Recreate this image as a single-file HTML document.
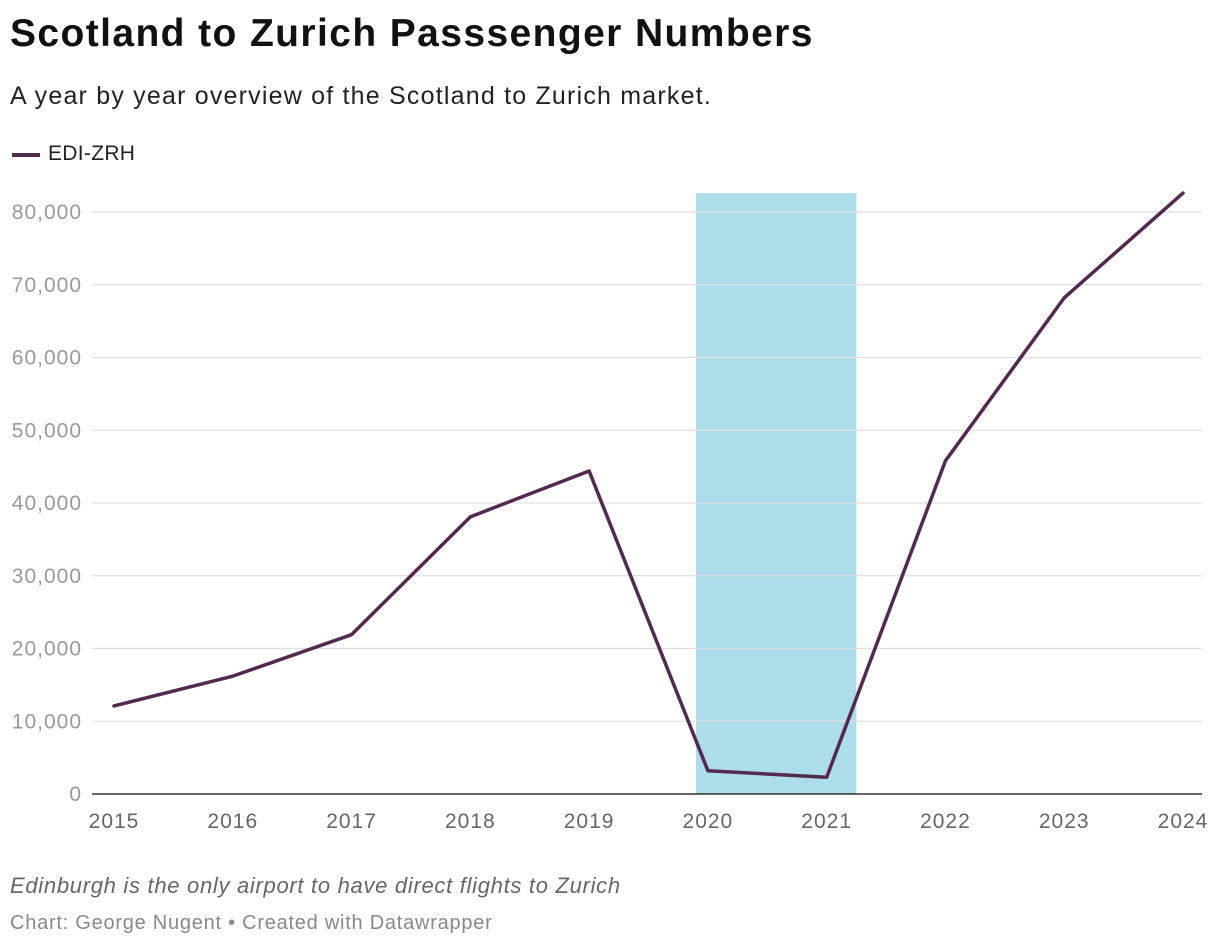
<!DOCTYPE html>
<html><head><meta charset="utf-8"><style>
body{margin:0;width:1220px;height:948px;background:#fff;font-family:"Liberation Sans",sans-serif;overflow:hidden;position:relative}
.t{position:absolute;white-space:nowrap}
</style></head><body>
<div class="t" style="left:10px;top:12px;font-size:39px;font-weight:bold;color:#111;letter-spacing:1.4px">Scotland to Zurich Passsenger Numbers</div>
<div class="t" style="left:10px;top:82px;font-size:25px;color:#222;letter-spacing:1.2px">A year by year overview of the Scotland to Zurich market.</div>
<div>
<div class="t" style="left:12px;top:153px;width:28px;height:4px;background:#522a4d"></div>
<div class="t" style="left:48px;top:142px;font-size:21px;color:#222;letter-spacing:0.3px">EDI-ZRH</div>
</div>
<svg id="chart" width="1220" height="948" style="position:absolute;left:0;top:0"></svg>
<div class="t" style="left:10px;top:873px;font-size:22px;font-style:italic;color:#666;letter-spacing:0.7px">Edinburgh is the only airport to have direct flights to Zurich</div>
<div class="t" style="left:10px;top:912px;font-size:20px;color:#888;letter-spacing:0.75px">Chart: George Nugent • Created with Datawrapper</div>
<script>
const years=[2015,2016,2017,2018,2019,2020,2021,2022,2023,2024];
const passengers=[12100,16200,21900,38100,44400,3200,2300,45800,68200,82600];
const yTicks=[0,10000,20000,30000,40000,50000,60000,70000,80000];
const yTickLabels=["0","10,000","20,000","30,000","40,000","50,000","60,000","70,000","80,000"];
const bandStart=2019.9, bandEnd=2021.25;
const NS="http://www.w3.org/2000/svg";
const svg=document.getElementById('chart');
const x=v=>114+(v-2015)*(1183-114)/9;
const y=v=>794-v*(794-212)/80000;
function mk(t,a){const e=document.createElementNS(NS,t);for(const k in a)e.setAttribute(k,a[k]);svg.appendChild(e);return e;}
const band=mk('rect',{x:x(bandStart),y:y(Math.max(...passengers)),width:x(bandEnd)-x(bandStart),height:y(0)-y(Math.max(...passengers)),fill:'#addcea'});


yTicks.forEach((v,i)=>{
 if(v>0){const g=mk('line',{x1:92,x2:1202,y1:y(v),y2:y(v),stroke:'#e0e0e0','stroke-width':1.3});
 
 }
 const t=mk('text',{x:82,y:y(v)+7,'text-anchor':'end','font-size':21,fill:'#999','letter-spacing':1,'font-family':'Liberation Sans, sans-serif'});
 t.textContent=yTickLabels[i];
 
 
});
const ax=mk('line',{x1:92,x2:1202,y1:y(0),y2:y(0),stroke:'#333','stroke-width':1.5});


years.forEach(yr=>{
 const t=mk('text',{x:x(yr),y:828,'text-anchor':'middle','font-size':21,fill:'#666','letter-spacing':1,'font-family':'Liberation Sans, sans-serif'});
 t.textContent=yr;
 
 
});
const p=mk('polyline',{points:years.map((yr,i)=>x(yr)+','+y(passengers[i])).join(' '),fill:'none',stroke:'#522a4d','stroke-width':3.5,'stroke-linejoin':'round','stroke-linecap':'round'});


</script>
</body></html>
